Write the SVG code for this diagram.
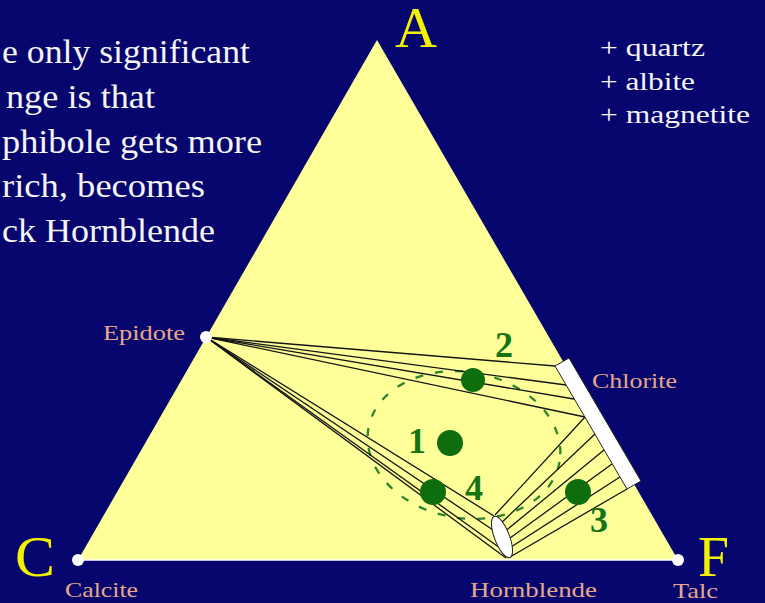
<svg xmlns="http://www.w3.org/2000/svg" width="765" height="603" viewBox="0 0 765 603">
<style>
.bg{fill:#06066e}
.tri{fill:#ffff99}
.tie{stroke:#141414;stroke-width:1.3;fill:none}
.note{font-family:"Liberation Serif","Times New Roman",serif;fill:#f4f4f4;font-size:33px}
.assem{font-family:"Liberation Serif","Times New Roman",serif;fill:#f4f4f4;font-size:26px}
.vert{font-family:"Liberation Serif","Times New Roman",serif;fill:#f2f200;font-size:58px}
.min{font-family:"Liberation Serif","Times New Roman",serif;fill:#e6a888;font-size:22px}
.num{font-family:"Liberation Serif","Times New Roman",serif;fill:#137513;font-size:36px;font-weight:bold;text-anchor:middle}
.dot{fill:#0e6e0e}
.pt{fill:#ffffff}
</style>
<rect class="bg" x="0" y="0" width="765" height="603"/>
<polygon class="tri" points="377,40 78,560 678,560"/>
<line x1="78" y1="560" x2="678" y2="560" stroke="#ffffff" stroke-width="1.5"/>

<g id="text-note">
<text class="note" x="2" y="63" textLength="248" lengthAdjust="spacingAndGlyphs">e only significant</text>
<text class="note" x="6" y="108" textLength="149" lengthAdjust="spacingAndGlyphs">nge is that</text>
<text class="note" x="2" y="153" textLength="260" lengthAdjust="spacingAndGlyphs">phibole gets more</text>
<text class="note" x="2" y="197" textLength="203" lengthAdjust="spacingAndGlyphs">rich, becomes</text>
<text class="note" x="2" y="242" textLength="213" lengthAdjust="spacingAndGlyphs">ck Hornblende</text>
</g>

<g id="text-assemblage">
<text class="assem" x="600" y="56" textLength="105" lengthAdjust="spacingAndGlyphs">+ quartz</text>
<text class="assem" x="600" y="90" textLength="95" lengthAdjust="spacingAndGlyphs">+ albite</text>
<text class="assem" x="600" y="123" textLength="150" lengthAdjust="spacingAndGlyphs">+ magnetite</text>
</g>

<g id="field-ellipse">
<ellipse cx="464" cy="445" rx="97" ry="73" transform="rotate(10 464 445)" fill="none" stroke="#2a862a" stroke-width="2.3" stroke-dasharray="8 12"/>
</g>

<g id="connectors">
<line class="tie" x1="206" y1="337" x2="555" y2="366"/>
<line class="tie" x1="206" y1="337" x2="566" y2="385"/>
<line class="tie" x1="206" y1="337" x2="574" y2="399"/>
<line class="tie" x1="206" y1="337" x2="585" y2="417"/>
<line class="tie" x1="206" y1="337" x2="494" y2="516"/>
<line class="tie" x1="206" y1="337" x2="496" y2="532"/>
<line class="tie" x1="206" y1="337" x2="500" y2="548"/>
<line class="tie" x1="206" y1="337" x2="506" y2="558"/>
<line class="tie" x1="585" y1="417" x2="495" y2="515"/>
<line class="tie" x1="595" y1="434" x2="500" y2="524"/>
<line class="tie" x1="604" y1="450" x2="503" y2="533"/>
<line class="tie" x1="612" y1="464" x2="506" y2="541"/>
<line class="tie" x1="620" y1="477" x2="508" y2="549"/>
<line class="tie" x1="627" y1="489" x2="510" y2="557"/>
</g>

<g id="vertex-A">
<text class="vert" x="395" y="47" textLength="42" lengthAdjust="spacingAndGlyphs">A</text>
</g>
<g id="vertex-C">
<circle class="pt" cx="78" cy="560" r="6"/>
<text class="vert" x="15" y="576" textLength="40" lengthAdjust="spacingAndGlyphs">C</text>
<text class="min" x="65" y="597" textLength="73" lengthAdjust="spacingAndGlyphs">Calcite</text>
</g>
<g id="vertex-F">
<circle class="pt" cx="678" cy="560" r="6"/>
<text class="vert" x="698" y="576" textLength="31" lengthAdjust="spacingAndGlyphs">F</text>
<text class="min" x="673" y="598" textLength="45" lengthAdjust="spacingAndGlyphs">Talc</text>
</g>
<g id="epidote">
<circle class="pt" cx="206" cy="337" r="6"/>
<text class="min" x="103" y="340" textLength="82" lengthAdjust="spacingAndGlyphs">Epidote</text>
</g>
<g id="chlorite">
<polygon points="555,366 569,358 641,481 627,489" fill="#ffffff" stroke="#222222" stroke-width="1"/>
<text class="min" x="592" y="388" textLength="85" lengthAdjust="spacingAndGlyphs">Chlorite</text>
</g>
<g id="hornblende">
<ellipse cx="502" cy="537" rx="7.5" ry="22" transform="rotate(-21 502 537)" fill="#ffffff" stroke="#222222" stroke-width="1"/>
<text class="min" x="470" y="597" textLength="127" lengthAdjust="spacingAndGlyphs">Hornblende</text>
</g>

<g id="point-1">
<circle class="dot" cx="450" cy="443" r="13"/>
<text class="num" x="417" y="453">1</text>
</g>
<g id="point-2">
<circle class="dot" cx="473" cy="380" r="12"/>
<text class="num" x="504" y="357">2</text>
</g>
<g id="point-3">
<circle class="dot" cx="578" cy="492" r="13"/>
<text class="num" x="599" y="532">3</text>
</g>
<g id="point-4">
<circle class="dot" cx="433" cy="492" r="13"/>
<text class="num" x="474" y="500">4</text>
</g>
</svg>
